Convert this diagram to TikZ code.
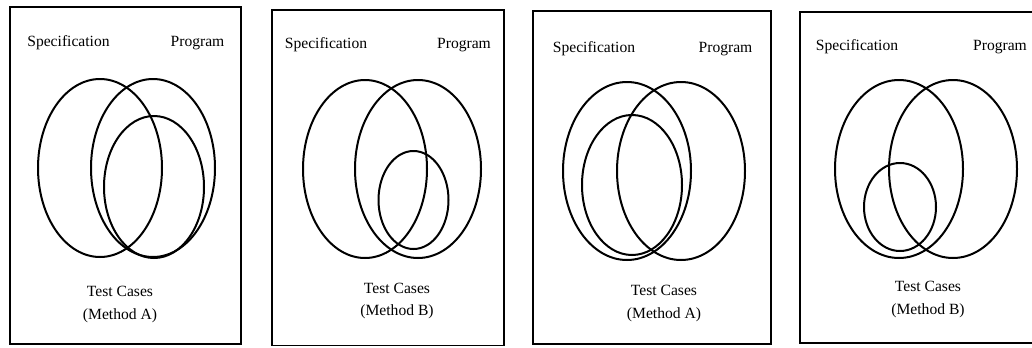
\documentclass[tikz,border=0pt]{standalone}
\usepackage{fontspec}
\setmainfont{Liberation Serif}
\usepackage{tikz}
\usetikzlibrary{shapes.geometric}
\newcommand{\vennfont}{\fontsize{11.7}{17.2}\selectfont}

\begin{document}
\begin{tikzpicture}[
      x=0.75pt, y=-0.75pt,
      every node/.style={font=\vennfont},
      panel/.style={draw, line width=1.2pt},
      ring/.style 2 args={draw, ellipse, line width=1.5pt, inner sep=0pt,
        minimum width=#1*1.5pt, minimum height=#2*1.5pt},
      tag/.style={align=center, inner sep=0pt},
    ]
      \useasboundingbox (0,0) rectangle (1032,347);
      \clip (0,0) rectangle (1032,347);

      \draw[panel] (10,7)   rectangle (241,344);
      \draw[panel] (272,10) rectangle (504,345.5);
      \draw[panel] (533,11) rectangle (771,344);
      \draw[panel] (800,12) rectangle (1040,343);

      % Method A, test cases inside the program
      \node[ring={62}{89}] (spec1) at (100,168) {};
      \node[ring={62}{89}] (prog1) at (153,168) {};
      \node[ring={50}{71}] (test1) at (154,187) {};
      \node[tag] (specl1) at (68.5,43) {Specification};
      \node[tag] (progl1) at (197.5,43) {Program};
      \node[tag] (testl1) at (120,304.5) {Test Cases\\(Method A)};

      % Method B, test cases inside the program
      \node[ring={62}{89}] (spec2) at (365,169) {};
      \node[ring={63}{89}] (prog2) at (418,169) {};
      \node[ring={35}{49}] (test2) at (413.5,200) {};
      \node[tag] (specl2) at (326,45) {Specification};
      \node[tag] (progl2) at (464,45) {Program};
      \node[tag] (testl2) at (397,301) {Test Cases\\(Method B)};

      % Method A, test cases inside the specification
      \node[ring={64}{89}] (spec3) at (627,171) {};
      \node[ring={64}{89}] (prog3) at (681,171) {};
      \node[ring={50}{70}] (test3) at (632,185) {};
      \node[tag] (specl3) at (594,49) {Specification};
      \node[tag] (progl3) at (725.5,49) {Program};
      \node[tag] (testl3) at (664,303.5) {Test Cases\\(Method A)};

      % Method B, test cases inside the specification
      \node[ring={64}{89}] (spec4) at (899,169) {};
      \node[ring={64}{89}] (prog4) at (953,169) {};
      \node[ring={36}{44}] (test4) at (900,207) {};
      \node[tag] (specl4) at (857,47) {Specification};
      \node[tag] (progl4) at (1000,47) {Program};
      \node[tag] (testl4) at (928,299.5) {Test Cases\\(Method B)};
    \end{tikzpicture}
\end{document}
